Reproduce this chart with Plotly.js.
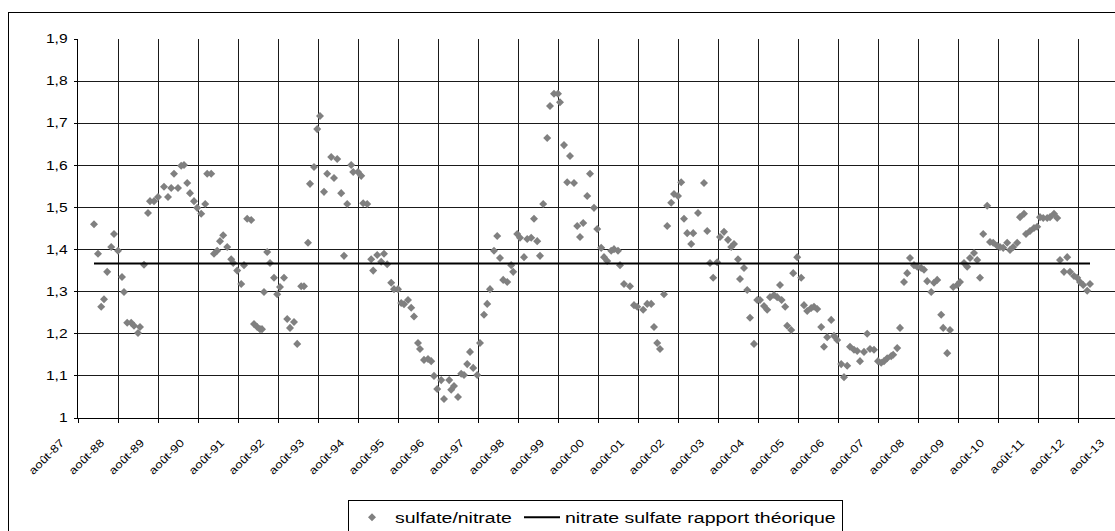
<!DOCTYPE html>
<html><head><meta charset="utf-8">
<script src="https://cdn.plot.ly/plotly-3.0.1.min.js"></script>
<style>
html,body{margin:0;padding:0;background:#fff;overflow:hidden;width:1115px;height:531px;}
#frame{position:absolute;left:8px;top:12px;width:1200px;height:600px;border:1px solid #000;box-sizing:border-box;}
#chart{position:absolute;left:0;top:0;width:1200px;height:531px;}
</style></head><body>
<div id="frame"></div>
<div id="chart"></div>
<script>
// tick labels (one per August)
const tickYears = [1987,1988,1989,1990,1991,1992,1993,1994,1995,1996,1997,1998,1999,2000,2001,2002,2003,2004,2005,2006,2007,2008,2009,2010,2011,2012,2013];
const tickLabels = ['août-87','août-88','août-89','août-90','août-91','août-92','août-93','août-94','août-95','août-96','août-97','août-98','août-99','août-00','août-01','août-02','août-03','août-04','août-05','août-06','août-07','août-08','août-09','août-10','août-11','août-12','août-13'];
const augustOffset = 0.58; // August 1st as fraction of year

// y-axis ticks
const yTicks = [1,1.1,1.2,1.3,1.4,1.5,1.6,1.7,1.8,1.9];
const yLabels = ['1','1,1','1,2','1,3','1,4','1,5','1,6','1,7','1,8','1,9'];

// sampling time (decimal years)
const sampleTime = [
1987.98,1988.08,1988.16,1988.23,1988.31,1988.41,1988.48,1988.58,1988.68,1988.73,1988.81,1988.91,1988.98,1989.08,1989.13,1989.23,1989.33,1989.38,1989.48,1989.58,
1989.73,1989.83,1989.91,1989.98,1990.08,1990.16,1990.23,1990.31,1990.38,1990.48,1990.56,1990.66,1990.76,1990.81,1990.91,1990.98,1991.06,1991.13,1991.21,1991.31,
1991.41,1991.46,1991.56,1991.66,1991.73,1991.81,1991.91,1991.98,1992.06,1992.13,1992.18,1992.23,1992.31,1992.38,1992.48,1992.56,1992.63,1992.73,1992.81,1992.88,
1992.98,1993.06,1993.16,1993.23,1993.33,1993.38,1993.48,1993.56,1993.63,1993.73,1993.81,1993.91,1993.98,1994.06,1994.16,1994.23,1994.31,1994.41,1994.46,1994.58,
1994.66,1994.71,1994.81,1994.91,1994.96,1995.06,1995.16,1995.23,1995.31,1995.41,1995.48,1995.58,1995.66,1995.73,1995.83,1995.91,1995.98,1996.08,1996.13,1996.23,
1996.33,1996.41,1996.48,1996.56,1996.66,1996.73,1996.86,1996.91,1996.98,1997.08,1997.16,1997.23,1997.31,1997.38,1997.46,1997.56,1997.63,1997.73,1997.81,1997.88,
1997.98,1998.06,1998.13,1998.21,1998.31,1998.41,1998.46,1998.56,1998.63,1998.73,1998.81,1998.91,1998.98,1999.06,1999.13,1999.21,1999.31,1999.38,1999.48,1999.58,
1999.63,1999.73,1999.81,1999.88,1999.98,2000.06,2000.13,2000.21,2000.31,2000.38,2000.48,2000.56,2000.66,2000.73,2000.81,2000.91,2000.98,2001.08,2001.13,2001.23,
2001.38,2001.48,2001.56,2001.71,2001.81,2001.91,2001.98,2002.06,2002.13,2002.23,2002.31,2002.41,2002.48,2002.58,2002.66,2002.73,2002.81,2002.91,2002.96,2003.08,
2003.23,2003.31,2003.38,2003.46,2003.56,2003.63,2003.73,2003.83,2003.91,2003.98,2004.08,2004.13,2004.23,2004.31,2004.38,2004.48,2004.56,2004.63,2004.73,2004.81,
2004.88,2004.98,2005.06,2005.13,2005.17,2005.26,2005.31,2005.41,2005.46,2005.56,2005.66,2005.73,2005.81,2005.91,2005.98,2006.06,2006.16,2006.23,2006.31,2006.41,
2006.48,2006.56,2006.66,2006.73,2006.81,2006.88,2006.98,2007.06,2007.13,2007.23,2007.31,2007.38,2007.48,2007.58,2007.66,2007.73,2007.81,2007.91,2007.96,2008.06,
2008.13,2008.23,2008.31,2008.38,2008.48,2008.56,2008.66,2008.73,2008.81,2008.91,2008.98,2009.06,2009.16,2009.21,2009.31,2009.38,2009.46,2009.56,2009.63,2009.73,
2009.81,2009.88,2009.98,2010.06,2010.13,2010.21,2010.31,2010.38,2010.46,2010.56,2010.63,2010.71,2010.81,2010.88,2010.96,2011.06,2011.13,2011.23,2011.28,2011.38,
2011.48,2011.56,2011.63,2011.71,2011.81,2011.88,2011.98,2012.06,2012.13,2012.23,2012.31,2012.38,2012.48,2012.56,2012.63,2012.71,2012.81,2012.88
];

// sulfate/nitrate ratio
const sulfateNitrate = [
1.460,1.390,1.264,1.282,1.347,1.406,1.437,1.397,1.335,1.299,1.226,1.226,1.219,1.202,1.216,1.364,1.487,1.515,1.515,1.525,
1.549,1.525,1.546,1.580,1.546,1.599,1.601,1.558,1.534,1.515,1.499,1.485,1.508,1.580,1.580,1.390,1.397,1.420,1.434,1.406,
1.377,1.368,1.350,1.318,1.363,1.473,1.470,1.223,1.216,1.211,1.211,1.299,1.394,1.368,1.333,1.294,1.311,1.333,1.235,1.214,
1.228,1.176,1.313,1.313,1.416,1.556,1.596,1.686,1.717,1.537,1.580,1.620,1.570,1.615,1.534,1.385,1.508,1.601,1.584,1.584,
1.575,1.510,1.508,1.377,1.350,1.387,1.371,1.390,1.365,1.321,1.306,1.306,1.273,1.270,1.280,1.262,1.241,1.178,1.164,1.138,
1.140,1.135,1.100,1.069,1.090,1.045,1.090,1.067,1.076,1.050,1.105,1.102,1.128,1.157,1.119,1.102,1.178,1.245,1.271,1.306,
1.397,1.432,1.380,1.328,1.323,1.363,1.347,1.437,1.428,1.382,1.425,1.428,1.473,1.420,1.385,1.508,1.665,1.741,1.770,1.770,
1.750,1.648,1.560,1.622,1.558,1.456,1.430,1.463,1.527,1.580,1.499,1.449,1.404,1.382,1.373,1.397,1.401,1.397,1.363,1.318,
1.313,1.268,1.264,1.257,1.271,1.271,1.216,1.178,1.164,1.294,1.456,1.511,1.532,1.527,1.560,1.473,1.439,1.413,1.439,1.487,
1.558,1.444,1.368,1.333,1.370,1.430,1.442,1.423,1.406,1.413,1.377,1.330,1.356,1.304,1.238,1.176,1.280,1.280,1.266,1.257,
1.287,1.292,1.287,1.316,1.280,1.264,1.219,1.209,1.344,1.382,1.333,1.268,1.254,1.261,1.264,1.259,1.216,1.169,1.192,1.233,
1.195,1.185,1.128,1.097,1.124,1.169,1.162,1.159,1.135,1.157,1.200,1.164,1.162,1.135,1.131,1.135,1.142,1.147,1.150,1.166,
1.214,1.323,1.344,1.380,1.363,1.359,1.356,1.352,1.325,1.299,1.321,1.328,1.245,1.214,1.154,1.209,1.311,1.316,1.323,1.368,
1.359,1.380,1.392,1.375,1.333,1.437,1.504,1.418,1.416,1.409,1.406,1.404,1.416,1.399,1.406,1.416,1.477,1.485,1.437,1.444,
1.451,1.454,1.477,1.475,1.475,1.477,1.485,1.475,1.375,1.347,1.382,1.347,1.337,1.333,1.323,1.316,1.302,1.318
];

// theoretical nitrate/sulfate ratio line
const ratioTime = [1987.98, 2012.88];
const ratioTheo = [1.367, 1.367];

const font = 'Liberation Sans, Arial, sans-serif';
const STRETCH = 1.3;   // the reference text is drawn horizontally widened
const XSTRETCH = 1.2;

const traces = [
  {type:'scatter', mode:'markers', name:'sulfate/nitrate', x:sampleTime, y:sulfateNitrate,
   marker:{symbol:'diamond', size:6.2, color:'#808080', line:{width:0}}, legendwidth:119},
  {type:'scatter', mode:'lines', name:'nitrate sulfate rapport théorique', x:ratioTime, y:ratioTheo,
   line:{color:'#000', width:2}, legendwidth:272}
];

const plotW = 1052;
const layout = {
  width:1200, height:531,
  margin:{l:78, r:1200-78-plotW, t:39, b:113, autoexpand:false},
  paper_bgcolor:'rgba(0,0,0,0)', plot_bgcolor:'#fff',
  font:{family:font, color:'#000', size:12},
  showlegend:true,
  legend:{orientation:'h', x:(348-78)/plotW, xanchor:'left', y:-(500-418)/379, yanchor:'top',
          bordercolor:'#000', borderwidth:1, bgcolor:'#fff', font:{size:15, family:font},
          itemwidth:36, tracegroupgap:0},
  xaxis:{type:'linear', range:[tickYears[0]+augustOffset, tickYears[0]+augustOffset+plotW/40],
         tickvals:tickYears.map(y=>y+augustOffset), ticktext:tickLabels, tickangle:-45,
         showgrid:true, gridcolor:'#1a1a1a', gridwidth:1, zeroline:false,
         showline:true, linecolor:'#000', linewidth:1, automargin:false,
         ticks:'outside', ticklen:4, tickcolor:'#000', tickfont:{size:11, family:font},
         ticklabelstandoff:9, ticklabelshift:-17},
  yaxis:{range:[1,1.9], tickvals:yTicks, ticktext:yLabels,
         showgrid:true, gridcolor:'#1a1a1a', gridwidth:1, zeroline:false,
         showline:true, linecolor:'#000', linewidth:1, automargin:false,
         ticks:'outside', ticklen:3, tickcolor:'#000', tickfont:{size:12, family:font},
         ticklabelstandoff:4}
};

function stretchTexts(root, selector, k) {
  root.querySelectorAll(selector).forEach(t => {
    const ax = parseFloat(t.getAttribute('x')) || 0;
    const prev = t.getAttribute('transform') || '';
    t.setAttribute('transform', prev + ' translate(' + ax + ',0) scale(' + k + ',1) translate(' + (-ax) + ',0)');
  });
}

Plotly.newPlot('chart', traces, layout, {staticPlot:true, displayModeBar:false}).then(gd => {
  stretchTexts(gd, 'g.xtick text', XSTRETCH);
  stretchTexts(gd, 'g.ytick text', STRETCH);
  stretchTexts(gd, 'text.legendtext', STRETCH);
});
</script>
</body></html>
